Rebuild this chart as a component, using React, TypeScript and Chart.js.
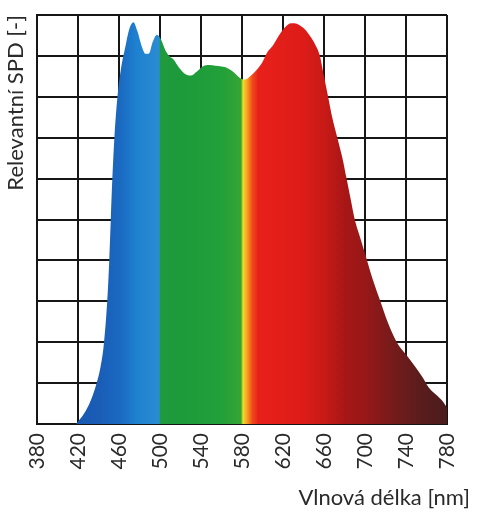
import React, { useEffect, useRef } from 'react';
import { Chart, registerables } from 'chart.js';

Chart.register(...registerables);

// Wavelength [nm]
const wavelengths = [
  418, 422, 427, 432, 437, 442, 445, 448.5, 450.5, 452, 453.5, 455.5, 458.5, 462, 466, 470, 474, 478, 482, 486,
  489, 493, 497, 501, 505, 509, 513, 519, 525, 530, 536, 542, 548, 554, 560, 566, 572, 578, 583, 588,
  594, 600, 605, 610, 616, 622, 628, 634, 640, 646, 651, 656, 660, 664, 668, 673, 678, 682, 686, 690,
  696, 702, 708, 715, 722, 731, 740, 749, 756, 762, 770, 776, 780,
];

// Relative SPD (grid units 0..10)
const spd = [
  0, 0.12, 0.3, 0.55, 0.9, 1.4, 1.9, 3.0, 4.0, 5.0, 6.0, 7.0, 8.0, 8.7, 9.2, 9.65, 9.82, 9.6, 9.25, 9.05,
  9.05, 9.35, 9.52, 9.4, 9.15, 9.0, 8.92, 8.7, 8.55, 8.52, 8.62, 8.75, 8.78, 8.76, 8.74, 8.7, 8.6, 8.46, 8.42, 8.5,
  8.65, 8.85, 9.1, 9.25, 9.5, 9.7, 9.8, 9.78, 9.68, 9.5, 9.3, 9.0, 8.5, 8.0, 7.5, 7.0, 6.5, 6.0, 5.5, 5.0,
  4.5, 4.0, 3.5, 3.0, 2.5, 2.0, 1.7, 1.4, 1.15, 0.9, 0.7, 0.55, 0.4,
];

const xTicks = [380, 420, 460, 500, 540, 580, 620, 660, 700, 740, 780];

// Spectral colour gradient of the fill
const gradientStops = [380, 440, 462, 478, 499, 500.5, 520, 560, 579, 581, 585, 590, 596, 640, 660, 680, 700, 720, 750, 780];
const gradientColors = [
  '#1658ac', '#1a5cb6', '#1a6ac2', '#1f82d0', '#2a8cd2', '#1f9a3e', '#1d9a3a', '#22a03a', '#35a535', '#f2de2a',
  '#f8a020', '#f04a1a', '#e8201a', '#dd1c18', '#c81a16', '#a81616', '#981818', '#7e1a1a', '#5e1c1c', '#4a1c1c',
];

const X_MIN = 380;
const X_MAX = 780;
const gridColor = '#161616';
const fontFamily = 'Lato, "Noto Sans", sans-serif';

export default function App() {
  const ref = useRef<HTMLCanvasElement>(null);

  useEffect(() => {
    const canvas = ref.current;
    if (!canvas) return;
    const chart = new Chart(canvas, {
      type: 'line',
      data: {
        datasets: [
          {
            data: wavelengths.map((w, i) => ({ x: w, y: spd[i] })),
            fill: 'origin',
            borderWidth: 0,
            pointRadius: 0,
            tension: 0.4,
            cubicInterpolationMode: 'monotone',
            borderColor: 'rgba(0,0,0,0)',
            backgroundColor: (c: any) => {
              const ch = c.chart;
              if (!ch.chartArea) return 'rgba(0,0,0,0)';
              const xs = ch.scales.x;
              const x0 = xs.getPixelForValue(X_MIN);
              const x1 = xs.getPixelForValue(X_MAX);
              const g = ch.ctx.createLinearGradient(x0, 0, x1, 0);
              gradientStops.forEach((w, i) => g.addColorStop((w - X_MIN) / (X_MAX - X_MIN), gradientColors[i]));
              return g;
            },
          } as any,
        ],
      },
      options: {
        animation: false,
        responsive: true,
        maintainAspectRatio: false,
        layout: { padding: { left: 0, right: 12, top: 15, bottom: 0 } },
        plugins: {
          legend: { display: false },
          tooltip: { enabled: false },
          title: {
            display: true,
            position: 'bottom',
            align: 'end',
            text: 'Vlnová délka [nm]',
            color: '#2a2a2a',
            font: { family: fontFamily, size: 22, weight: 'normal' },
            padding: { top: 4, bottom: 2 },
          },
        },
        scales: {
          x: {
            type: 'linear',
            min: X_MIN,
            max: X_MAX,
            z: 1,
            afterBuildTicks: (s: any) => {
              s.ticks = xTicks.map((v) => ({ value: v }));
            },
            afterFit: (s: any) => {
              s.height = 56.6;
            },
            ticks: {
              minRotation: 90,
              maxRotation: 90,
              padding: 9,
              color: '#2a2a2a',
              font: { family: fontFamily, size: 21 },
            },
            grid: { color: gridColor, lineWidth: 2, drawTicks: false },
            border: { color: gridColor, width: 2 },
          },
          y: {
            type: 'linear',
            position: 'left',
            min: 0,
            max: 10,
            z: 1,
            afterFit: (s: any) => {
              s.width = 37;
            },
            ticks: { display: false, stepSize: 1 },
            grid: { color: gridColor, lineWidth: 2, drawTicks: false },
            border: { color: gridColor, width: 2 },
            title: {
              display: true,
              align: 'end',
              text: 'Relevantní SPD [-]',
              color: '#2a2a2a',
              font: { family: fontFamily, size: 22 },
              padding: { top: 3, bottom: 4 },
            },
          },
          yR: {
            type: 'linear',
            position: 'right',
            min: 0,
            max: 10,
            afterFit: (s: any) => {
              s.width = 23;
            },
            ticks: { display: false },
            grid: { display: false, drawTicks: false },
            border: { display: false },
          },
        },
      } as any,
    });
    return () => chart.destroy();
  }, []);

  return (
    <div style={{ position: 'absolute', left: 0, top: 0, width: 482, height: 513, background: '#fff' }}>
      <canvas ref={ref} />
    </div>
  );
}
